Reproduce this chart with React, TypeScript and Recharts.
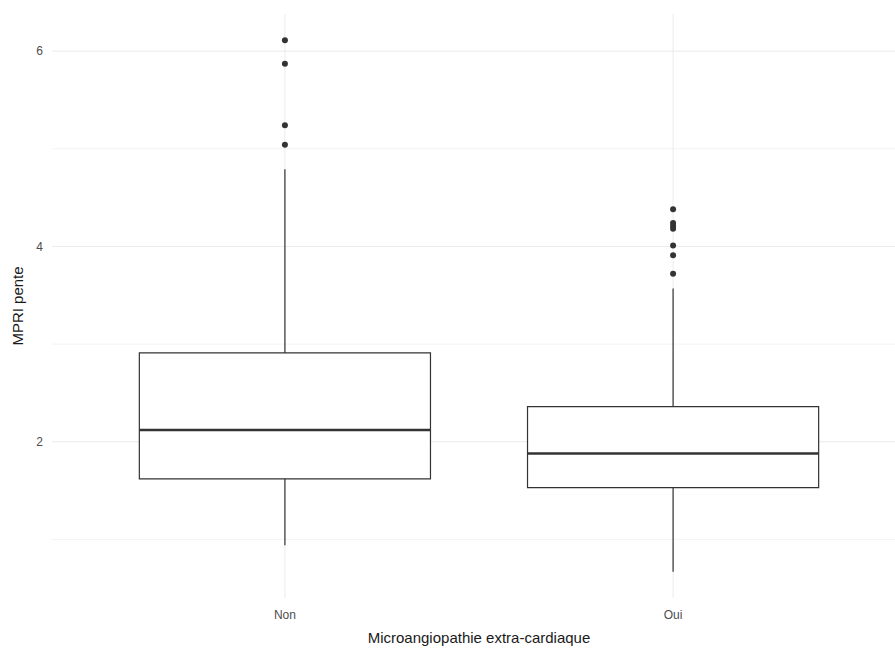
import {
  CartesianGrid,
  ComposedChart,
  ReferenceArea,
  ReferenceLine,
  Scatter,
  XAxis,
  YAxis,
} from 'recharts';

const categories = ['Non', 'Oui'];
const q1 = [1.62, 1.53];
const median = [2.12, 1.88];
const q3 = [2.91, 2.36];
const whiskerLow = [0.94, 0.67];
const whiskerHigh = [4.79, 3.57];
const outliersNon = [6.11, 5.87, 5.24, 5.04];
const outliersOui = [4.38, 4.24, 4.21, 4.18, 4.01, 3.91, 3.72];
const yTicks = [2, 4, 6];
const yMinor = [1, 3, 5];
const xTicks = [1, 2];

const HALF = 0.375; // box width 0.75 like ggplot
const INK = '#333333';
const FONT = '"Liberation Sans", Arial, sans-serif';

const outlierData = [
  ...outliersNon.map(v => ({ x: 1, y: v })),
  ...outliersOui.map(v => ({ x: 2, y: v })),
];

const Dot = (props: any) => <circle cx={props.cx} cy={props.cy} r={3} fill={INK} />;

const App = () => {
  return (
    <div style={{ position: 'absolute', left: 0, top: 0, width: 895, height: 650, overflow: 'hidden', background: '#fff' }}>
      <ComposedChart width={912} height={650} margin={{ top: 14, right: 6, left: 0, bottom: 0 }} style={{ fontFamily: FONT }}>
        {/* theme_minimal grid: minor lines fainter than major, kept under the boxes */}
        <CartesianGrid vertical={false} horizontalValues={yMinor} stroke="#f3f3f3" strokeWidth={1} />
        <CartesianGrid horizontalValues={yTicks} verticalValues={xTicks} stroke="#ebebeb" strokeWidth={1} />
        <XAxis
          type="number"
          dataKey="x"
          domain={[0.4, 2.6]}
          ticks={xTicks}
          tickFormatter={(v: number) => categories[v - 1]}
          axisLine={false}
          tickLine={false}
          tickSize={0}
          tickMargin={12}
          height={52}
          tick={{ fill: '#4d4d4d', fontSize: 12 }}
          label={{ value: 'Microangiopathie extra-cardiaque', position: 'insideBottom', offset: 7, fill: '#1a1a1a', fontSize: 15 }}
        />
        <YAxis
          type="number"
          dataKey="y"
          domain={[0.4, 6.38]}
          ticks={yTicks}
          axisLine={false}
          tickLine={false}
          tickSize={0}
          tickMargin={9}
          width={52}
          tick={{ fill: '#4d4d4d', fontSize: 12 }}
          label={{ value: 'MPRI pente', angle: -90, position: 'insideLeft', offset: 18, fill: '#1a1a1a', fontSize: 15, style: { textAnchor: 'middle' } }}
        />
        {categories.map((c, i) => (
          <ReferenceLine
            key={'wh' + c}
            segment={[{ x: i + 1, y: q3[i] }, { x: i + 1, y: whiskerHigh[i] }]}
            stroke={INK}
            strokeWidth={1.2}
          />
        ))}
        {categories.map((c, i) => (
          <ReferenceLine
            key={'wl' + c}
            segment={[{ x: i + 1, y: whiskerLow[i] }, { x: i + 1, y: q1[i] }]}
            stroke={INK}
            strokeWidth={1.2}
          />
        ))}
        {categories.map((c, i) => (
          <ReferenceArea
            key={'box' + c}
            x1={i + 1 - HALF}
            x2={i + 1 + HALF}
            y1={q1[i]}
            y2={q3[i]}
            fill="#ffffff"
            fillOpacity={1}
            stroke={INK}
            strokeWidth={1.2}
          />
        ))}
        {categories.map((c, i) => (
          <ReferenceLine
            key={'med' + c}
            segment={[{ x: i + 1 - HALF, y: median[i] }, { x: i + 1 + HALF, y: median[i] }]}
            stroke={INK}
            strokeWidth={2.6}
          />
        ))}
        <Scatter data={outlierData} shape={Dot} isAnimationActive={false} />
      </ComposedChart>
    </div>
  );
};

export default App;
